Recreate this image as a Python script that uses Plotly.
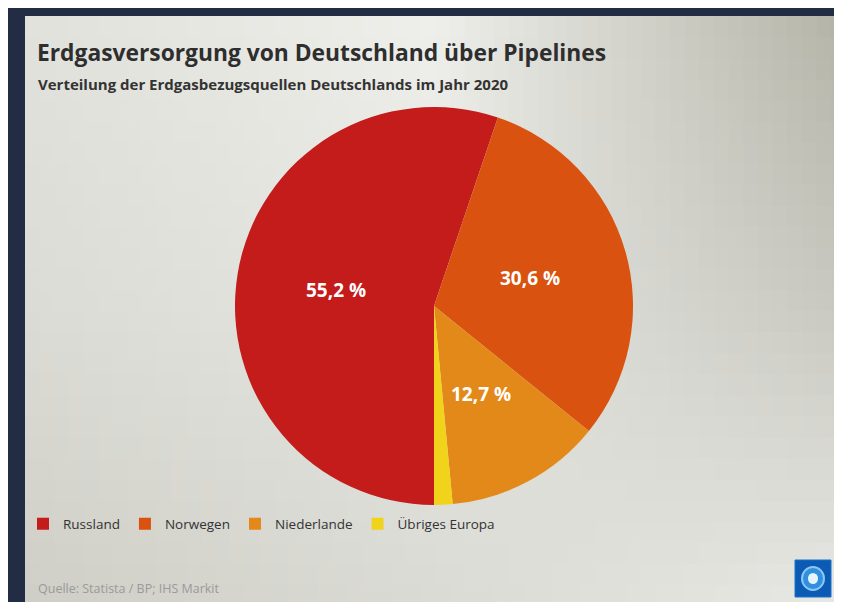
import plotly.graph_objects as go
import numpy as np

# ---- data ----
categories = ["Russland", "Norwegen", "Niederlande", "Übriges Europa"]
shares = [55.2, 30.6, 12.7, 1.5]
share_labels = ["55,2 %", "30,6 %", "12,7 %", ""]
colors = ["#C41B1B", "#D9520F", "#E3891A", "#F2D31C"]

title = "Erdgasversorgung von Deutschland über Pipelines"
subtitle = "Verteilung der Erdgasbezugsquellen Deutschlands im Jahr 2020"
source = "Quelle: Statista / BP; IHS Markit"

# page has an 8px body margin; figure sized to fit the 842x610 window
OFF = 8
W, H = 826, 594
FONT = "Open Sans"


def px(x):
    return (x - OFF) / W


def py(y):
    return 1 - (y - OFF) / H


def hex2rgb(h):
    h = h.lstrip("#")
    return np.array([int(h[i:i + 2], 16) for i in (0, 2, 4)], dtype=float)


ctrl = [["#e2e2dc", "#efefeb", "#b3b3a7"],
        ["#dcdcd6", "#e6e6e2", "#c9c9c1"],
        ["#cfcfc7", "#dbdbd5", "#e9e9e5"]]
ctrl = [[hex2rgb(c) for c in row] for row in ctrl]


def col_at(u, v):
    def interp_row(row, u):
        if u <= 0.5:
            t = u / 0.5
            return row[0] * (1 - t) + row[1] * t
        t = (u - 0.5) / 0.5
        return row[1] * (1 - t) + row[2] * t
    r0, r1, r2 = (interp_row(r, u) for r in ctrl)
    if v <= 0.5:
        t = v / 0.5
        c = r0 * (1 - t) + r1 * t
    else:
        t = (v - 0.5) / 0.5
        c = r1 * (1 - t) + r2 * t
    return "rgb(%d,%d,%d)" % tuple(np.clip(c, 0, 255).astype(int))


shapes = []
X0, X1, Y0, Y1 = 25, 846, 16, 606
NX, NY = 56, 28
for i in range(NX):
    for j in range(NY):
        xa = X0 + (X1 - X0) * i / NX
        xb = X0 + (X1 - X0) * (i + 1) / NX + 1.5
        ya = Y0 + (Y1 - Y0) * j / NY
        yb = Y0 + (Y1 - Y0) * (j + 1) / NY + 1.5
        c = col_at((i + 0.5) / NX, (j + 0.5) / NY)
        shapes.append(dict(type="rect", xref="paper", yref="paper",
                           x0=px(xa), x1=px(xb), y0=py(yb), y1=py(ya),
                           fillcolor=c, line_width=0, layer="below"))

# dark frame bands (left and top)
shapes.append(dict(type="rect", xref="paper", yref="paper", x0=-0.01, x1=px(25), y0=-0.01, y1=1.01,
                   fillcolor="#222d45", line_width=0, layer="below"))
shapes.append(dict(type="rect", xref="paper", yref="paper", x0=-0.01, x1=1.01, y0=py(16), y1=1.01,
                   fillcolor="#222d45", line_width=0, layer="below"))

# logo (decoration)
shapes.append(dict(type="rect", xref="paper", yref="paper", x0=px(795), x1=px(831), y0=py(597), y1=py(560),
                   fillcolor="#0b5ab3", line=dict(color="#1a73cc", width=1), layer="above"))
shapes.append(dict(type="circle", xref="paper", yref="paper", x0=px(802), x1=px(824), y0=py(590), y1=py(567),
                   fillcolor="#2f8fe0", line=dict(color="#8cc6f2", width=2), layer="above"))
shapes.append(dict(type="circle", xref="paper", yref="paper", x0=px(808), x1=px(818), y0=py(584), y1=py(573),
                   fillcolor="#e8f4fc", line_width=0, layer="above"))

# pie geometry
pie_x = [px(235), px(633)]
pie_y = [py(505), py(107)]

fig = go.Figure()
fig.add_trace(go.Pie(
    labels=categories,
    values=shares,
    textinfo="none",
    marker=dict(colors=colors, line=dict(width=0)),
    sort=False,
    direction="clockwise",
    rotation=180,
    hole=0,
    domain=dict(x=pie_x, y=pie_y),
    showlegend=True,
))

# slice labels at half radius along each slice's bisector (derived from the data)
cx_px = (pie_x[0] + pie_x[1]) / 2 * W
cy_px = (pie_y[0] + pie_y[1]) / 2 * H
r_px = min((pie_x[1] - pie_x[0]) * W, (pie_y[1] - pie_y[0]) * H) / 2
total = sum(shares)
start = 180.0
annotations = []
for val, lab in zip(shares, share_labels):
    mid = start + val / total * 360 / 2
    start += val / total * 360
    if not lab:
        continue
    a = np.radians(mid)
    xx = cx_px + 0.5 * r_px * np.sin(a)
    yy = cy_px + 0.5 * r_px * np.cos(a)
    annotations.append(dict(text="<b>" + lab + "</b>", x=xx / W, y=yy / H, xref="paper", yref="paper",
                            xanchor="center", yanchor="middle", showarrow=False,
                            font=dict(family=FONT, size=19, color="white")))

annotations += [
    dict(text="<b>" + title + "</b>", x=px(35), y=py(52), xref="paper", yref="paper",
         xanchor="left", yanchor="middle", showarrow=False,
         font=dict(family=FONT, size=22.8, color="#2e2e2e")),
    dict(text="<b>" + subtitle + "</b>", x=px(36), y=py(84), xref="paper", yref="paper",
         xanchor="left", yanchor="middle", showarrow=False,
         font=dict(family=FONT, size=15, color="#333333")),
    dict(text=source, x=px(36), y=py(588), xref="paper", yref="paper",
         xanchor="left", yanchor="middle", showarrow=False,
         font=dict(family=FONT, size=12.5, color="#9a9a9a")),
]

fig.update_layout(
    width=W, height=H,
    margin=dict(l=0, r=0, t=0, b=0),
    paper_bgcolor="white",
    plot_bgcolor="rgba(0,0,0,0)",
    shapes=shapes,
    annotations=annotations,
    legend=dict(orientation="h", x=px(23), y=py(524), xanchor="left", yanchor="middle",
                font=dict(family=FONT, size=13.5, color="#333333"),
                bgcolor="rgba(0,0,0,0)", itemclick=False, traceorder="normal"),
    font=dict(family=FONT),
)

fig.write_html("out.html")
